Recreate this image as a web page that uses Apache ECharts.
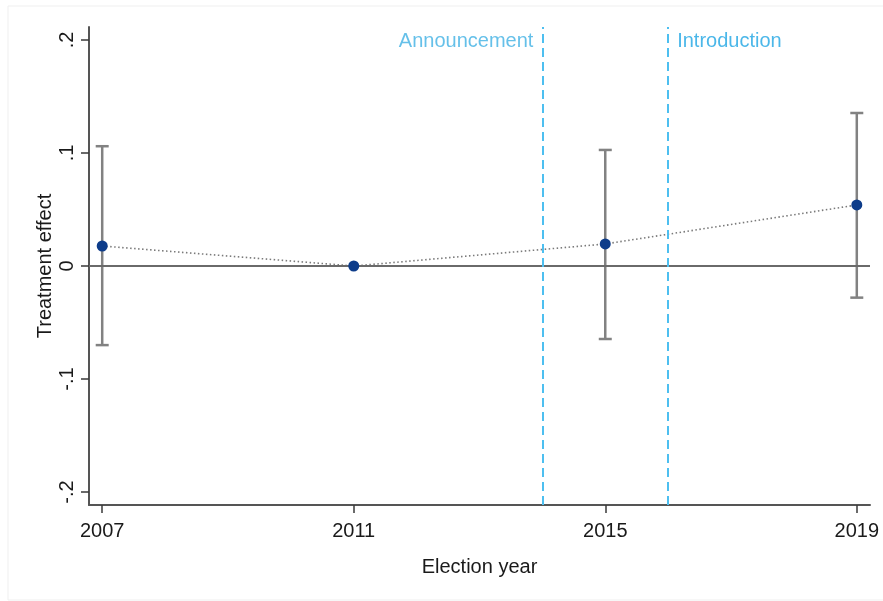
<!DOCTYPE html>
<html>
<head>
<meta charset="utf-8">
<style>
  html, body { margin: 0; padding: 0; background: #fff; }
  #main { width: 883px; height: 601px; }
</style>
<script src="https://cdn.jsdelivr.net/npm/echarts@6/dist/echarts.min.js"></script>
</head>
<body>
<div id="main"></div>
<script>
// data
var years = [2007, 2011, 2015, 2019];
var effects = [0.0177, 0, 0.0195, 0.054];
var ciLow = [-0.070, 0, -0.0646, -0.028];
var ciHigh = [0.106, 0, 0.1027, 0.1354];
var xTicks = [2007, 2011, 2015, 2019];
var yTicks = [-0.2, -0.1, 0, 0.1, 0.2];
var eventYears = [2014, 2016];
var eventNames = ['Announcement', 'Introduction'];
var eventColors = ['#3fb0e4', '#1ea5e3'];

var font = 'Liberation Sans, Arial, sans-serif';

function tickText(v) {
	// stata style: no leading zero
	if (Math.abs(v) < 1e-9) return '0';
	var s = String(Math.round(v * 10) / 10);
	return s.replace('0.', '.');
}

var pointData = years.map(function (y, i) { return [y, effects[i]]; });
var ciData = years.map(function (y, i) { return [y, ciLow[i], ciHigh[i]]; });

var myChart = echarts.init(document.getElementById('main'));

var option = {
	backgroundColor: '#ffffff',
	animation: false,
	graphic: [{
		type: 'rect',
		shape: { x: 8, y: 6, width: 880, height: 594 },
		style: { fill: 'none', stroke: '#efefef', lineWidth: 1 },
		silent: true
	}],
	grid: { left: 89, right: 13, top: 27, bottom: 96 },
	xAxis: {
		type: 'value',
		min: 2006.79,
		max: 2019.21,
		name: 'Election year',
		nameLocation: 'middle',
		nameGap: 52,
		nameMoveOverlap: false,
		nameTextStyle: { fontFamily: font, fontSize: 20, color: '#1a1a1a' },
		axisLine: { show: true, onZero: false, lineStyle: { color: '#555555', width: 2 } },
		axisTick: { show: true, length: 8, lineStyle: { color: '#3a3a3a', width: 1.5 }, customValues: xTicks },
		axisLabel: {
			margin: 16,
			fontFamily: font, fontSize: 20, color: '#1a1a1a',
			customValues: xTicks,
			formatter: function (v) { return String(v); }
		},
		splitLine: { show: false }
	},
	yAxis: {
		type: 'value',
		min: -0.2115,
		max: 0.2115,
		name: 'Treatment effect',
		nameLocation: 'middle',
		nameRotate: 90,
		nameGap: 34,
		nameMoveOverlap: false,
		nameTextStyle: { fontFamily: font, fontSize: 20, color: '#1a1a1a' },
		axisLine: { show: true, onZero: false, lineStyle: { color: '#555555', width: 2 } },
		axisTick: { show: true, length: 8, lineStyle: { color: '#3a3a3a', width: 1.5 }, customValues: yTicks },
		axisLabel: {
			rotate: 90,
			margin: 12,
			fontFamily: font, fontSize: 20, color: '#1a1a1a',
			customValues: yTicks,
			formatter: tickText
		},
		splitLine: { show: false }
	},
	series: [
		{
			// zero reference line + event lines
			type: 'line',
			data: [],
			silent: true,
			markLine: {
				symbol: 'none',
				silent: true,
				label: { show: false },
				data: [
					{ yAxis: 0, lineStyle: { color: '#6a6a6a', width: 2, type: 'solid' } },
					{ xAxis: eventYears[0], lineStyle: { color: '#4dbff0', width: 2, type: [9, 5] } },
					{ xAxis: eventYears[1], lineStyle: { color: '#4dbff0', width: 2, type: [9, 5] } }
				]
			}
		},
		{
			// confidence intervals
			type: 'custom',
			data: ciData,
			z: 3,
			renderItem: function (params, api) {
				var x = api.value(0);
				if (api.value(1) === api.value(2)) return null;
				var lo = api.coord([x, api.value(1)]);
				var hi = api.coord([x, api.value(2)]);
				var half = 6.5;
				var st = { stroke: '#828282', lineWidth: 2.5 };
				return {
					type: 'group',
					children: [
						{ type: 'line', shape: { x1: lo[0], y1: lo[1], x2: hi[0], y2: hi[1] }, style: st },
						{ type: 'line', shape: { x1: lo[0] - half, y1: lo[1], x2: lo[0] + half, y2: lo[1] }, style: st },
						{ type: 'line', shape: { x1: hi[0] - half, y1: hi[1], x2: hi[0] + half, y2: hi[1] }, style: st }
					]
				};
			}
		},
		{
			// dotted connection
			type: 'line',
			data: pointData,
			symbol: 'none',
			z: 4,
			lineStyle: { color: '#7a7a7a', width: 1.6, type: [1.5, 2.5] }
		},
		{
			type: 'scatter',
			data: pointData,
			symbolSize: 11,
			z: 5,
			itemStyle: { color: '#0d3c8a', opacity: 1 }
		},
		{
			// event labels
			type: 'scatter',
			symbolSize: 0,
			silent: true,
			data: eventYears.map(function (y, i) {
				return {
					value: [y, 0.199],
					label: {
						show: true,
						formatter: eventNames[i],
						position: i === 0 ? 'left' : 'right',
						distance: 9,
						fontFamily: font,
						fontSize: 20,
						color: eventColors[i]
					}
				};
			})
		}
	]
};

myChart.setOption(option);
</script>
</body>
</html>
